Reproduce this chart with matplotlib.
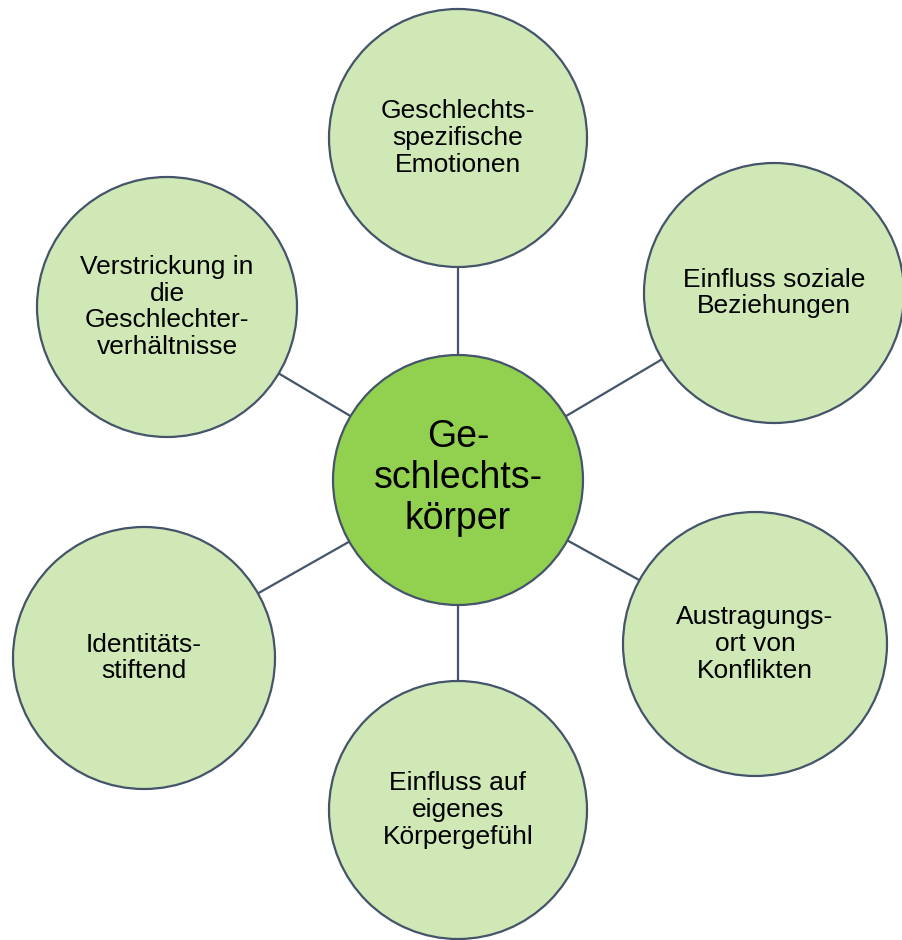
import matplotlib
matplotlib.use("Agg")
import matplotlib.pyplot as plt
from matplotlib.patches import Circle

plt.rcParams["font.family"] = ["Liberation Sans", "DejaVu Sans"]

CENTER_LABEL = "Ge-\nschlechts-\nkörper"
CENTER_XY = (458, 480)
CENTER_R = 125

LABELS = [
    "Geschlechts-\nspezifische\nEmotionen",
    "Einfluss soziale\nBeziehungen",
    "Austragungs-\nort von\nKonflikten",
    "Einfluss auf\neigenes\nKörpergefühl",
    "Identitäts-\nstiftend",
    "Verstrickung in\ndie\nGeschlechter-\nverhältnisse",
]
NODE_X = [458, 774, 755, 458, 144, 167]
NODE_Y = [138, 293, 644, 810, 658, 307]
NODE_R = [129, 130, 132, 129, 131, 130]

EDGE = "#44546A"
OUTER_FILL = "#D0E8B5"
CENTER_FILL = "#92D050"

fig = plt.figure(figsize=(9.03, 9.40), dpi=100)
ax = fig.add_axes([0, 0, 1, 1])
ax.set_xlim(0, 903)
ax.set_ylim(940, 0)
ax.set_aspect("equal")
ax.axis("off")

# spokes first, circles drawn on top hide the inner parts
for x, y in zip(NODE_X, NODE_Y):
    ax.plot([CENTER_XY[0], x], [CENTER_XY[1], y], color=EDGE, lw=1.6, zorder=1)

for label, x, y, r in zip(LABELS, NODE_X, NODE_Y, NODE_R):
    ax.add_patch(Circle((x, y), r, facecolor=OUTER_FILL, edgecolor=EDGE, lw=1.6, zorder=2))
    ax.text(x, y, label, ha="center", va="center", fontsize=19,
            linespacing=1.14, color="black", zorder=3)

ax.add_patch(Circle(CENTER_XY, CENTER_R, facecolor=CENTER_FILL, edgecolor=EDGE, lw=1.6, zorder=2))
ax.text(CENTER_XY[0], CENTER_XY[1] - 2, CENTER_LABEL, ha="center", va="center",
        fontsize=27, linespacing=1.18, color="black", zorder=3)

fig.savefig("out.png", dpi=100)
